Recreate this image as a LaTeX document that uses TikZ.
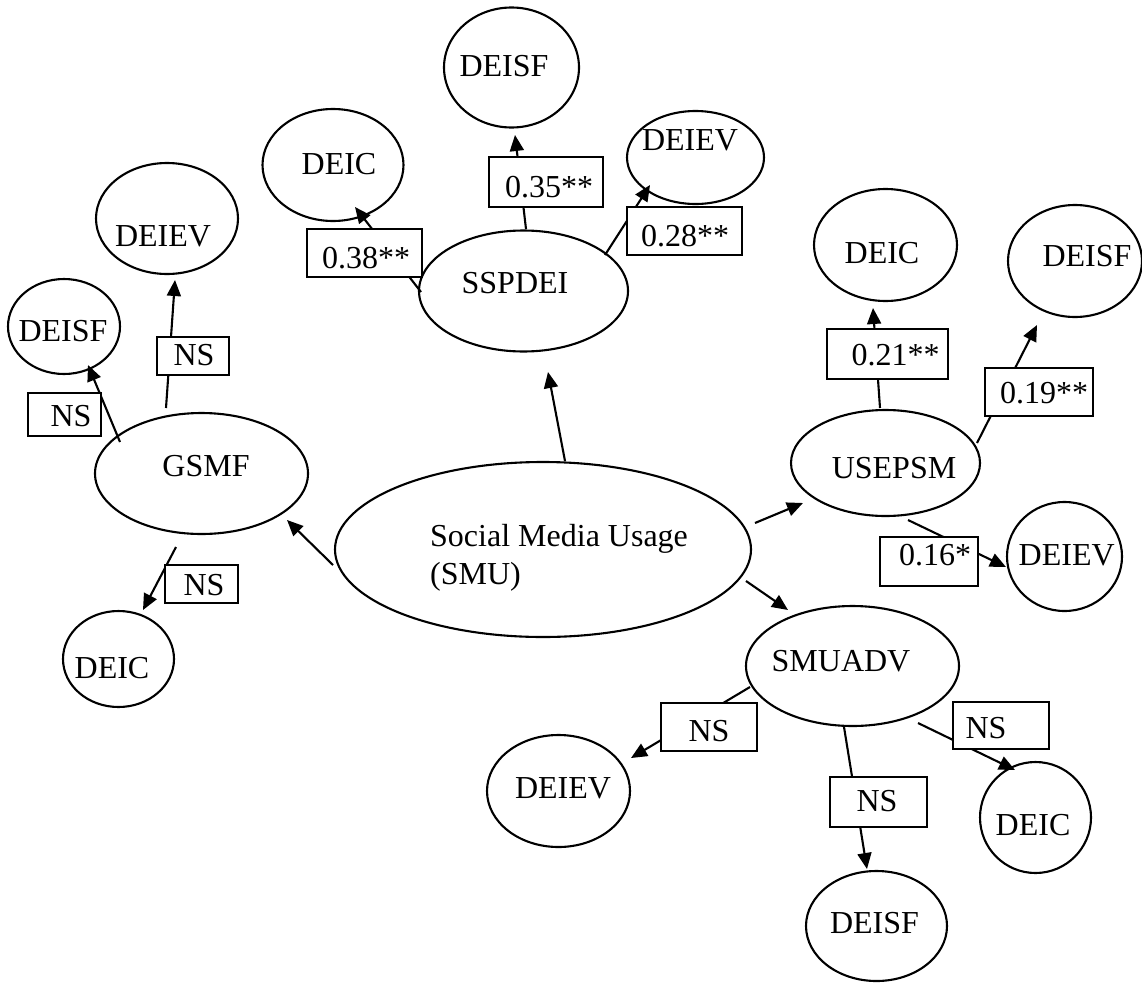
\documentclass[tikz,border=0pt]{standalone}
\usepackage{fontspec}
\setmainfont{Liberation Serif}
\usetikzlibrary{shapes.geometric,arrows.meta}
\tikzset{
  ell/.style={draw, ellipse, line width=2.1pt, inner sep=0pt},
  valbox/.style={draw, fill=white, line width=2.1pt, inner sep=0pt, rectangle},
  lbl/.style={anchor=base, inner sep=0pt, font=\fontsize{32pt}{38pt}\selectfont},
  conn/.style={line width=2.1pt, -{Triangle[length=16pt,width=14pt]}}
}
\begin{document}
\begin{tikzpicture}[x=1pt,y=-1pt]
\useasboundingbox (0,0) rectangle (1142,982);
% ellipses
\node[ell, minimum width=209pt, minimum height=121pt] (SSPDEI) at (523.5,291) {};
\node[ell, minimum width=135pt, minimum height=120pt] (DEISFs) at (511.5,67.5) {};
\node[ell, minimum width=141pt, minimum height=112pt] (DEICs) at (333,165) {};
\node[ell, minimum width=137pt, minimum height=93pt] (DEIEVs) at (695.5,157.5) {};
\node[ell, minimum width=213pt, minimum height=121pt] (GSMF) at (201.5,473.5) {};
\node[ell, minimum width=142pt, minimum height=111pt] (DEIEVg) at (167,218.5) {};
\node[ell, minimum width=112pt, minimum height=95pt] (DEISFg) at (64,326.5) {};
\node[ell, minimum width=111pt, minimum height=96pt] (DEICg) at (118.5,659) {};
\node[ell, minimum width=416pt, minimum height=175pt] (SMU) at (543,549.5) {};
\node[ell, minimum width=189pt, minimum height=106pt] (USEPSM) at (885.5,463) {};
\node[ell, minimum width=143pt, minimum height=112pt] (DEICu) at (885.5,245) {};
\node[ell, minimum width=134pt, minimum height=112pt] (DEISFu) at (1075,261) {};
\node[ell, minimum width=115pt, minimum height=109pt] (DEIEVu) at (1064.5,556.5) {};
\node[ell, minimum width=213pt, minimum height=120pt] (SMUADV) at (852.5,666) {};
\node[ell, minimum width=143pt, minimum height=112pt] (DEIEVa) at (558.5,791) {};
\node[ell, minimum width=111pt, minimum height=111pt] (DEICa) at (1035.5,817.5) {};
\node[ell, minimum width=141pt, minimum height=110pt] (DEISFa) at (876.5,926) {};
% connector end points
\coordinate (s1) at (421,292);  \coordinate (t1) at (355,207);
\coordinate (s2) at (526,229);  \coordinate (t2) at (515,135);
\coordinate (s3) at (605,255);  \coordinate (t3) at (650,185);
\coordinate (s4) at (166,408);  \coordinate (t4) at (175,280);
\coordinate (s5) at (120,442);  \coordinate (t5) at (88,365);
\coordinate (s6) at (176,547);  \coordinate (t6) at (143,610);
\coordinate (s7) at (333,565);  \coordinate (t7) at (287,520);
\coordinate (s8) at (565,461);  \coordinate (t8) at (548,372);
\coordinate (s9) at (755,523);  \coordinate (t9) at (803,503);
\coordinate (s10) at (746,581); \coordinate (t10) at (788,610);
\coordinate (s11) at (880,408); \coordinate (t11) at (873,308);
\coordinate (s12) at (977,443); \coordinate (t12) at (1037,325);
\coordinate (s13) at (908,520); \coordinate (t13) at (1006,567);
\coordinate (s14) at (750,687); \coordinate (t14) at (631,758);
\coordinate (s15) at (844,727); \coordinate (t15) at (867,869);
\coordinate (s16) at (918,723); \coordinate (t16) at (1015,770);
\foreach \i in {1,...,16} {\draw[conn] (s\i) -- (t\i);}
% value boxes
\node[valbox, minimum width=115pt, minimum height=48pt] (b038) at (364.5,253) {};
\node[valbox, minimum width=114pt, minimum height=50pt] (b035) at (546,182) {};
\node[valbox, minimum width=115pt, minimum height=48pt] (b028) at (684.5,231) {};
\node[valbox, minimum width=72pt, minimum height=38pt] (bg1) at (193,356) {};
\node[valbox, minimum width=73pt, minimum height=43pt] (bg2) at (64.5,414.5) {};
\node[valbox, minimum width=73pt, minimum height=38pt] (bg3) at (201.5,584) {};
\node[valbox, minimum width=121pt, minimum height=50pt] (b021) at (887.5,354) {};
\node[valbox, minimum width=108pt, minimum height=48pt] (b019) at (1039,392) {};
\node[valbox, minimum width=98pt, minimum height=49pt] (b016) at (929,561.5) {};
\node[valbox, minimum width=96pt, minimum height=48pt] (ba1) at (709,727) {};
\node[valbox, minimum width=97pt, minimum height=50pt] (ba2) at (878.5,802) {};
\node[valbox, minimum width=96pt, minimum height=47pt] (ba3) at (1001,725.5) {};
% texts
\node[lbl] (tSSPDEI) at (515,293) {SSPDEI};
\node[lbl] (tDEISFs) at (504,76.7) {DEISF};
\node[lbl] (tDEICs) at (339,174) {DEIC};
\node[lbl] (tDEIEVs) at (690,150) {DEIEV};
\node[lbl] (t035) at (549,197) {0.35**};
\node[lbl] (t038) at (366,268) {0.38**};
\node[lbl] (t028) at (685,246.7) {0.28**};
\node[lbl] (tDEIEVg) at (163,246) {DEIEV};
\node[lbl] (tDEISFg) at (63,341.7) {DEISF};
\node[lbl] (tg1) at (194,365) {NS};
\node[lbl] (tg2) at (71,426.7) {NS};
\node[lbl] (tGSMF) at (206,476.7) {GSMF};
\node[lbl] (tg3) at (204,595) {NS};
\node[lbl] (tDEICg) at (112,678) {DEIC};
\node[lbl, anchor=base west] (tSMU1) at (430,546) {Social Media Usage};
\node[lbl, anchor=base west] (tSMU2) at (430,584) {(SMU)};
\node[lbl] (tDEICu) at (882,263) {DEIC};
\node[lbl] (tDEISFu) at (1087,266.7) {DEISF};
\node[lbl] (t021) at (895.5,365) {0.21**};
\node[lbl] (t019) at (1044,403) {0.19**};
\node[lbl] (tUSEPSM) at (894,478) {USEPSM};
\node[lbl] (t016) at (935,565) {0.16*};
\node[lbl] (tDEIEVu) at (1066.7,565) {DEIEV};
\node[lbl] (tSMUADV) at (841,671.7) {SMUADV};
\node[lbl] (ta3) at (986,738) {NS};
\node[lbl] (ta2) at (877,811.7) {NS};
\node[lbl] (tDEICa) at (1033,835) {DEIC};
\node[lbl] (ta1) at (709,741.7) {NS};
\node[lbl] (tDEIEVa) at (563,798) {DEIEV};
\node[lbl] (tDEISFa) at (874.5,933) {DEISF};
\end{tikzpicture}
\end{document}
